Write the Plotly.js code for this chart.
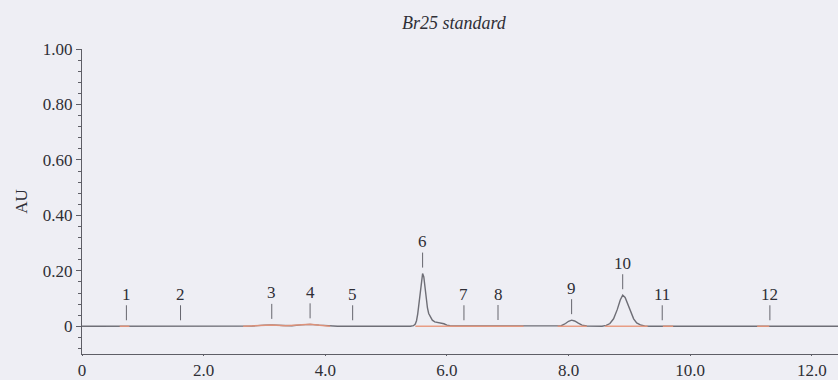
<!DOCTYPE html>
<html>
<head>
<meta charset="utf-8">
<script src="https://cdn.plot.ly/plotly-3.0.1.min.js"></script>
<style>
  html, body { margin: 0; padding: 0; background: #eeeef4; }
  #chart { width: 838px; height: 380px; }
</style>
</head>
<body>
<div id="chart"></div>
<script>
// Chromatogram of the Br25 standard: retention time (min) vs absorbance (AU)
const timeMin = [
  0, 0.60, 0.70, 0.80, 2.60, 2.80, 3.00, 3.12, 3.30, 3.45, 3.60, 3.75, 3.90, 4.05, 4.20,
  5.40, 5.45, 5.48, 5.50, 5.52, 5.54, 5.56, 5.58, 5.60, 5.62, 5.64, 5.66, 5.68, 5.70,
  5.73, 5.76, 5.80, 5.85, 5.90, 5.95, 6.00, 6.05, 6.15, 6.50, 6.90, 7.20,
  7.80, 7.88, 7.95, 8.00, 8.05, 8.10, 8.16, 8.22, 8.30, 8.40,
  8.55, 8.62, 8.68, 8.74, 8.80, 8.85, 8.89, 8.93, 8.97, 9.02, 9.07, 9.12, 9.18, 9.25, 9.35,
  12.43
];
const absorbance = [
  0, 0, 0.001, 0, 0, 0.001, 0.004, 0.005, 0.003, 0.002, 0.005, 0.007, 0.004, 0.001, 0,
  0, 0.002, 0.008, 0.020, 0.045, 0.085, 0.130, 0.172, 0.190, 0.178, 0.140, 0.097, 0.066, 0.046,
  0.031, 0.022, 0.016, 0.014, 0.013, 0.009, 0.004, 0.002, 0.001, 0.001, 0.002, 0,
  0, 0.002, 0.010, 0.018, 0.022, 0.019, 0.011, 0.004, 0.001, 0,
  0, 0.003, 0.010, 0.027, 0.060, 0.095, 0.112, 0.104, 0.080, 0.050, 0.027, 0.012, 0.005, 0.001, 0,
  0
];

// Integration baselines drawn under the detected peaks (null breaks the segments)
const baseTime = [
  0.62, 0.78, null,
  2.65, 2.90, 3.12, 3.35, 3.55, 3.75, 3.95, 4.08, null,
  5.48, 7.26, null,
  7.82, 8.30, null,
  8.60, 9.30, null,
  9.55, 9.72, null,
  11.10, 11.30
];
const baseAU = [
  0, 0, null,
  0, 0.002, 0.005, 0.002, 0.004, 0.007, 0.003, 0, null,
  0, 0, null,
  0, 0, null,
  0, 0, null,
  0, 0, null,
  0, 0
];

// Peak numbering
const peakLabels  = ['1', '2', '3', '4', '5', '6', '7', '8', '9', '10', '11', '12'];
const peakTimes   = [0.73, 1.62, 3.12, 3.75, 4.45, 5.60, 6.28, 6.84, 8.05, 8.89, 9.54, 11.31];
const peakHeights = [0, 0, 0.005, 0.007, 0, 0.190, 0, 0.001, 0.022, 0.112, 0, 0];

// Axis ticks
const xTickVals = [0, 2, 4, 6, 8, 10, 12];
const xTickText = ['0', '2.0', '4.0', '6.0', '8.0', '10.0', '12.0'];
const yTickVals = [0, 0.2, 0.4, 0.6, 0.8, 1.0];
const yTickText = ['0', '0.20', '0.40', '0.60', '0.80', '1.00'];

const SERIF = 'Liberation Serif, Times New Roman, serif';
const INK = '#2e2e36';
const AXIS = '#5e5e66';
const BG = '#eeeef4';
const X_RANGE = [0, 12.43];
const Y_RANGE = [-0.1, 1.0];

const traces = [
  {
    x: timeMin, y: absorbance, type: 'scatter', mode: 'lines',
    line: { color: '#6e6e76', width: 1.4 }, hoverinfo: 'skip', showlegend: false
  },
  {
    x: baseTime, y: baseAU, type: 'scatter', mode: 'lines', connectgaps: false,
    line: { color: '#e8957a', width: 1.5 }, opacity: 0.9, hoverinfo: 'skip', showlegend: false
  }
];

const annotations = peakLabels.map((lab, i) => ({
  x: peakTimes[i], y: peakHeights[i], xref: 'x', yref: 'y',
  text: lab, showarrow: true, arrowhead: 0, arrowwidth: 1, arrowcolor: '#66666e',
  ax: 0, ay: -32, standoff: 6,
  font: { family: SERIF, size: 17, color: INK }
}));

const minorX = { dtick: 0.4, tick0: 0, ticklen: 3, tickwidth: 1, tickcolor: AXIS };
const minorY = { dtick: 0.04, tick0: 0, ticklen: 3, tickwidth: 1, tickcolor: AXIS };

// tick-only companion axis sharing a main axis' range
function tickAxis(over, anchor, side, range, vals, dir, minor) {
  return {
    overlaying: over, anchor: anchor, side: side, range: range,
    showgrid: false, zeroline: false, showline: false, showticklabels: false,
    tickmode: 'array', tickvals: vals,
    ticks: dir, ticklen: 5, tickwidth: 1, tickcolor: AXIS,
    minor: Object.assign({ ticks: dir }, minor)
  };
}

const layout = {
  width: 838, height: 380,
  margin: { l: 82, r: 0, t: 49, b: 26, pad: 0 },
  paper_bgcolor: BG, plot_bgcolor: BG,
  showlegend: false,
  title: {
    text: '<i>Br25 standard</i>',
    font: { family: SERIF, size: 18, color: INK },
    x: 0.492, xref: 'paper', y: 0.94, yref: 'container', xanchor: 'center', yanchor: 'middle'
  },
  xaxis: {
    range: X_RANGE, showgrid: false, zeroline: false,
    showline: true, linecolor: AXIS, linewidth: 1,
    tickmode: 'array', tickvals: xTickVals, ticktext: xTickText,
    ticks: 'outside', ticklen: 1, tickwidth: 1, tickcolor: AXIS,
    tickfont: { family: SERIF, size: 17, color: INK }
  },
  yaxis: {
    range: Y_RANGE, showgrid: false, zeroline: false,
    showline: true, linecolor: AXIS, linewidth: 1,
    tickmode: 'array', tickvals: yTickVals, ticktext: yTickText,
    ticks: 'outside', ticklen: 5, tickwidth: 1, tickcolor: AXIS,
    minor: Object.assign({ ticks: 'outside' }, minorY),
    tickfont: { family: SERIF, size: 17, color: INK },
    title: { text: 'AU', font: { family: SERIF, size: 17, color: INK }, standoff: 10 }
  },
  // companion axes: ticks crossing the axis lines on both sides
  xaxis2: tickAxis('x', 'y', 'bottom', X_RANGE, xTickVals, 'inside', minorX),
  xaxis3: tickAxis('x', 'y', 'bottom', X_RANGE, xTickVals, 'outside', minorX),
  yaxis2: tickAxis('y', 'x', 'left', Y_RANGE, yTickVals, 'inside', minorY),
  annotations: annotations
};

Plotly.newPlot('chart', traces, layout, { staticPlot: true, displayModeBar: false });
</script>
</body>
</html>
